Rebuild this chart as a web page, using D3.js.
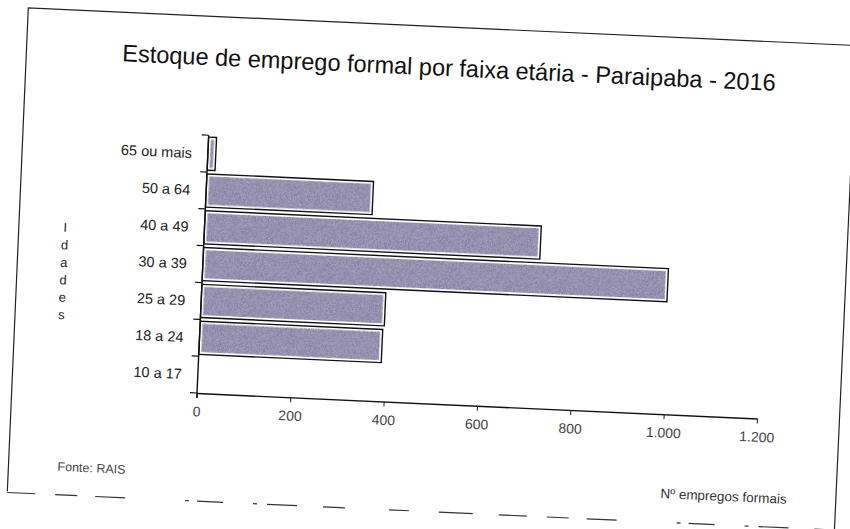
<!DOCTYPE html>
<html lang="pt">
<head>
<meta charset="UTF-8">
<title>Estoque de emprego formal por faixa etária - Paraipaba - 2016</title>
<style>
    body { margin: 0; background: #fff; overflow: hidden; }
    svg { display: block; }
    text { font-family: "Liberation Sans", Arial, sans-serif; }
</style>
</head>
<body>
<svg id="chart" width="850" height="529"></svg>
<script src="https://d3js.org/d3.v7.min.js"></script>
<script>
    const categories = ["65 ou mais", "50 a 64", "40 a 49", "30 a 39", "25 a 29", "18 a 24", "10 a 17"];
    const values = [17, 357, 720, 996, 394, 391, 0];
    const xTicks = [0, 200, 400, 600, 800, 1000, 1200];
    const xTickLabels = ["0", "200", "400", "600", "800", "1.000", "1.200"];
    const yTitle = ["I", "d", "a", "d", "e", "s"];

    const svg = d3.select("#chart");

    // grainy fill like the scanned print
    const defs = svg.append("defs");
    const f = defs.append("filter").attr("id", "grain")
        .attr("x", 0).attr("y", 0).attr("width", "100%").attr("height", "100%");
    f.append("feTurbulence").attr("type", "fractalNoise")
        .attr("baseFrequency", 1.3).attr("numOctaves", 2).attr("seed", 3).attr("result", "n");
    f.append("feColorMatrix").attr("in", "n").attr("type", "matrix")
        .attr("values", "0 0 0 0 0.25  0 0 0 0 0.22  0 0 0 0 0.38  0 0 0 -4 2.5")
        .attr("result", "dots");
    f.append("feComposite").attr("in", "dots").attr("in2", "SourceGraphic")
        .attr("operator", "in").attr("result", "d2");
    const fm = f.append("feMerge");
    fm.append("feMergeNode").attr("in", "SourceGraphic");
    fm.append("feMergeNode").attr("in", "d2");

    // the scanned page is tilted a little
    const page = svg.append("g").attr("transform", "rotate(2.6,197,393)");

    // page border (bottom edge is broken in the scan)
    page.append("path")
        .attr("d", "M12,500 L11,16 L840,16 L840,500")
        .attr("fill", "none").attr("stroke", "#222").attr("stroke-width", 1.2);
    page.append("line")
        .attr("x1", 12).attr("x2", 840).attr("y1", 501).attr("y2", 501)
        .attr("stroke", "#333").attr("stroke-width", 1.2)
        .attr("stroke-dasharray", "28 20 22 18 30 60 4 8 26 30 4 10 30 26 22 44 20 30 34 26");

    const x = d3.scaleLinear().domain([0, 1200]).range([197, 757.6]);
    const y = d3.scaleBand().domain(categories).range([135, 393])
        .paddingInner(0.1).paddingOuter(0.05);

    // title
    page.append("text")
        .attr("x", 434).attr("y", 65)
        .attr("text-anchor", "middle")
        .attr("font-size", 24)
        .attr("textLength", 654).attr("lengthAdjust", "spacingAndGlyphs")
        .attr("fill", "#111")
        .text("Estoque de emprego formal por faixa etária - Paraipaba - 2016");

    // bars
    const rows = categories.map((c, i) => ({ c, v: values[i] })).filter(d => d.v > 0);
    const bars = page.append("g");
    bars.selectAll("rect.outer").data(rows).join("rect")
        .attr("class", "outer")
        .attr("x", x(0))
        .attr("y", d => y(d.c))
        .attr("width", d => x(d.v) - x(0))
        .attr("height", y.bandwidth())
        .attr("fill", "#fff")
        .attr("stroke", "#111").attr("stroke-width", 1.4);
    bars.selectAll("rect.inner").data(rows).join("rect")
        .attr("class", "inner")
        .attr("x", x(0) + 2.5)
        .attr("y", d => y(d.c) + 2.5)
        .attr("width", d => Math.max(0, x(d.v) - x(0) - 5))
        .attr("height", y.bandwidth() - 5)
        .attr("fill", "#a29fb8")
        .attr("filter", "url(#grain)");

    // x axis
    const xAxis = page.append("g")
        .attr("transform", `translate(0,393)`)
        .call(d3.axisBottom(x).tickValues(xTicks).tickSize(5).tickSizeOuter(0)
            .tickFormat((d, i) => xTickLabels[i]));
    xAxis.select(".domain").attr("stroke", "#111").attr("stroke-width", 1.4);
    xAxis.selectAll(".tick line").attr("stroke", "#222");
    xAxis.selectAll(".tick text")
        .attr("font-family", "'Liberation Sans', Arial, sans-serif")
        .attr("font-size", 14).attr("fill", "#444").attr("dy", "1.1em");

    // y axis with ticks between the age groups
    const yAxis = page.append("g");
    yAxis.append("line")
        .attr("x1", x(0)).attr("x2", x(0))
        .attr("y1", y.range()[0]).attr("y2", y.range()[1] + 5)
        .attr("stroke", "#111").attr("stroke-width", 1.4);
    const step = (y.range()[1] - y.range()[0]) / categories.length;
    yAxis.selectAll("line.tk").data(d3.range(categories.length + 1)).join("line")
        .attr("class", "tk")
        .attr("x1", x(0) - 7).attr("x2", x(0))
        .attr("y1", i => y.range()[0] + i * step)
        .attr("y2", i => y.range()[0] + i * step)
        .attr("stroke", "#111").attr("stroke-width", 1.2);
    yAxis.selectAll("text").data(categories).join("text")
        .attr("x", 181)
        .attr("y", d => y(d) + y.bandwidth() / 2)
        .attr("dy", "0.35em")
        .attr("text-anchor", "end")
        .attr("font-size", 14.5)
        .attr("fill", "#222")
        .text(d => d);

    // stacked y title "Idades"
    page.append("g").selectAll("text").data(yTitle).join("text")
        .attr("x", 58)
        .attr("y", (d, i) => 238 + i * 17.5)
        .attr("text-anchor", "middle")
        .attr("font-size", 13)
        .attr("fill", "#222")
        .text(d => d);

    // source and x title
    page.append("text")
        .attr("x", 61).attr("y", 477)
        .attr("font-size", 12.5).attr("fill", "#444")
        .text("Fonte: RAIS");
    page.append("text")
        .attr("x", 791).attr("y", 477)
        .attr("text-anchor", "end")
        .attr("font-size", 13.5).attr("fill", "#333")
        .text("Nº empregos formais");
</script>
</body>
</html>
